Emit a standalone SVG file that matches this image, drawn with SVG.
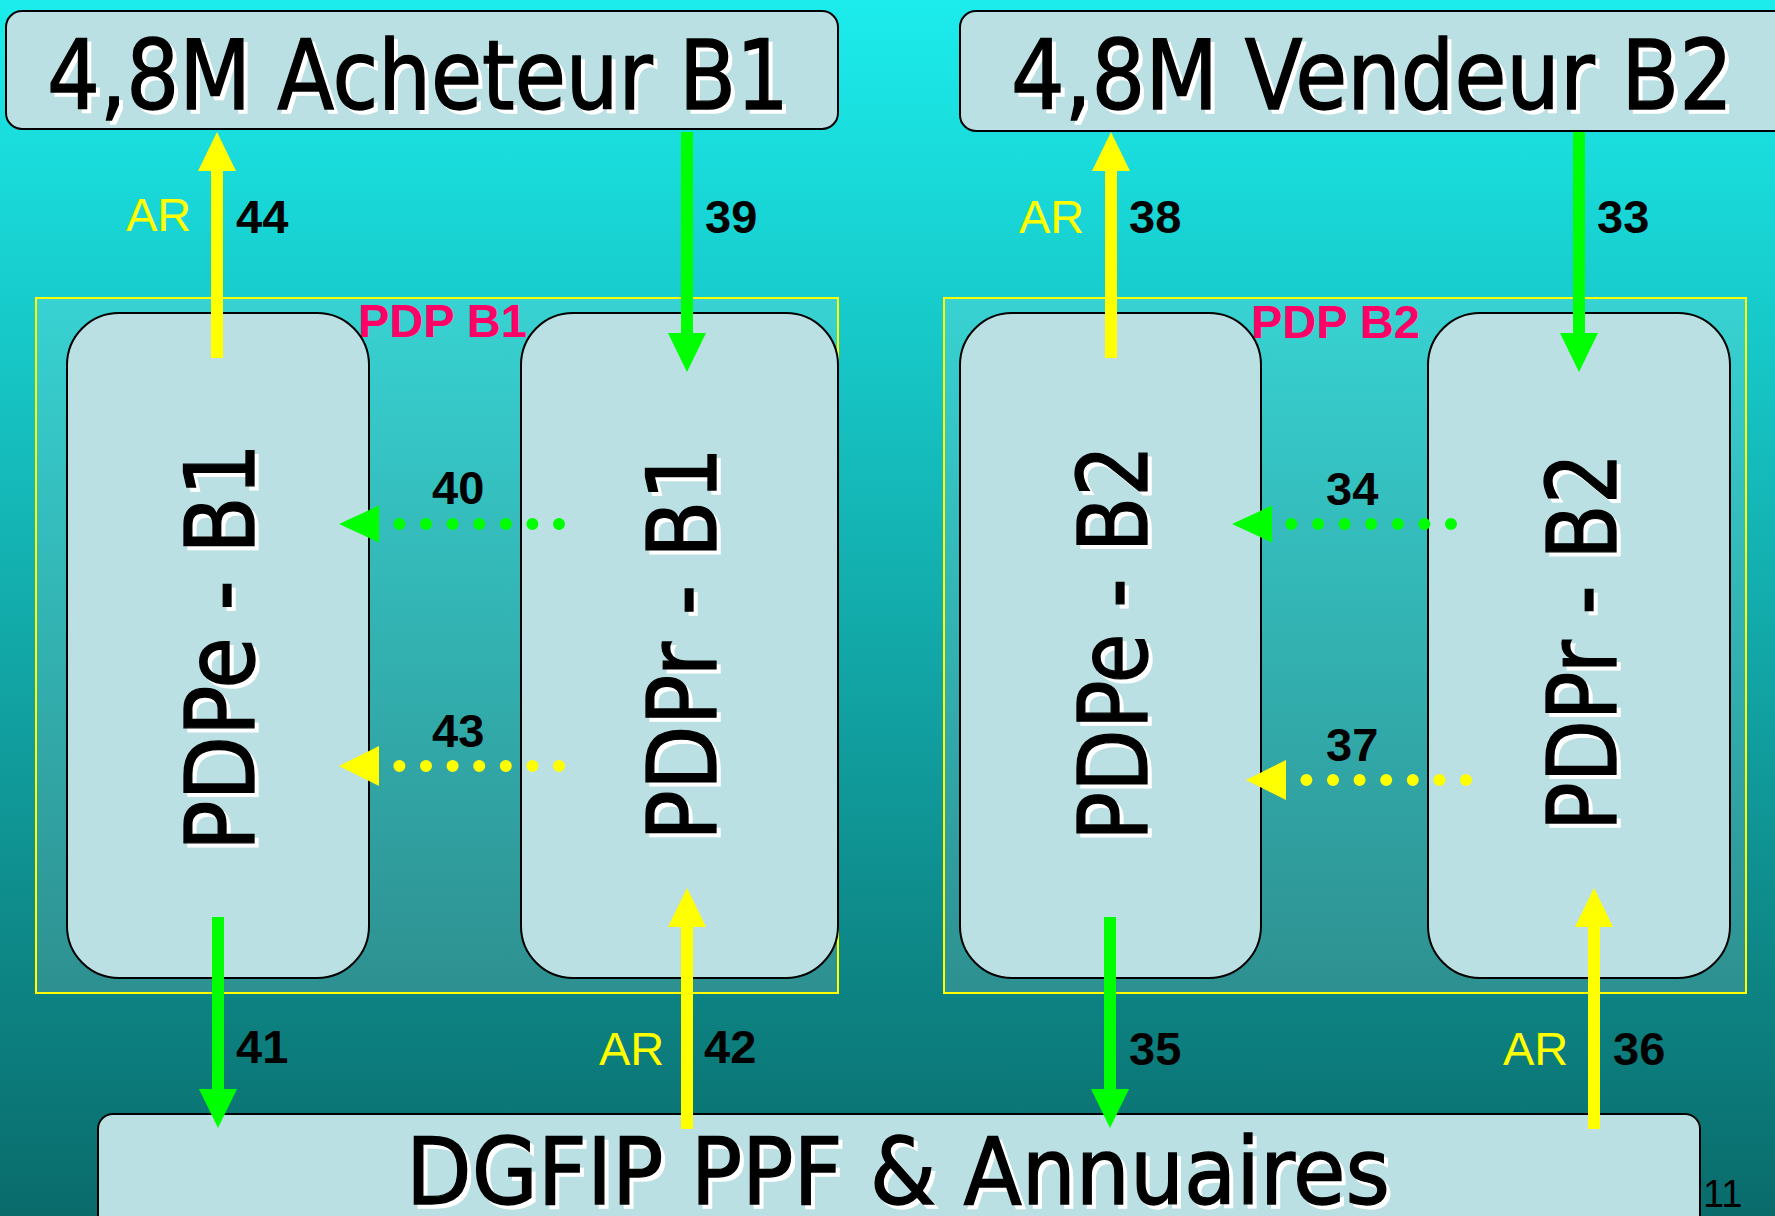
<svg xmlns="http://www.w3.org/2000/svg" width="1775" height="1216" viewBox="0 0 1775 1216">
<defs>
<linearGradient id="bg" x1="0" y1="0" x2="0" y2="1216" gradientUnits="userSpaceOnUse">
<stop offset="0" stop-color="#1CECEC"/>
<stop offset="1" stop-color="#0A6B6B"/>
</linearGradient>
<linearGradient id="cont" x1="0" y1="298" x2="0" y2="993" gradientUnits="userSpaceOnUse">
<stop offset="0" stop-color="#38D2D2"/>
<stop offset="1" stop-color="#2E9090"/>
</linearGradient>
<marker id="hy" viewBox="0 0 39 38" refX="0" refY="19" markerWidth="39" markerHeight="38" markerUnits="userSpaceOnUse" orient="auto">
<path d="M0,0 L39,19 L0,38 z" fill="#FFFF00"/>
</marker>
<marker id="hg" viewBox="0 0 39 38" refX="0" refY="19" markerWidth="39" markerHeight="38" markerUnits="userSpaceOnUse" orient="auto">
<path d="M0,0 L39,19 L0,38 z" fill="#00FF00"/>
</marker>
<style>
.box{fill:#BAE0E3;stroke:#000;stroke-width:2}
.cont{fill:url(#cont);stroke:#FFFF00;stroke-width:2}
.big{font-family:"DejaVu Sans Condensed","DejaVu Sans",sans-serif;font-stretch:condensed;fill:#000;stroke:#000;stroke-width:1.3}
.sh{fill:#FFFFFF;stroke:#FFFFFF}
.num{font-family:"Liberation Sans",Arial,sans-serif;font-weight:bold;font-size:47px;fill:#000}
.ar{font-family:"Liberation Sans",Arial,sans-serif;font-size:47px;fill:#FFFF00}
.pdp{font-family:"Liberation Sans",Arial,sans-serif;font-weight:bold;font-size:47px;fill:#FF0066}
.ay{stroke:#FFFF00;stroke-width:12;fill:none;marker-end:url(#hy)}
.ag{stroke:#00FF00;stroke-width:12;fill:none;marker-end:url(#hg)}
.dy{stroke:#FFFF00;stroke-width:12;stroke-linecap:round;stroke-dasharray:0 26.6;fill:none}
.dg{stroke:#00FF00;stroke-width:12;stroke-linecap:round;stroke-dasharray:0 26.6;fill:none}
</style>
</defs>
<rect x="0" y="0" width="1775" height="1216" fill="url(#bg)"/>

<g id="node-acheteur-b1">
<rect class="box" x="6" y="11" width="832" height="118" rx="16"/>
<text class="big sh" x="51" y="113" font-size="97" textLength="742" lengthAdjust="spacingAndGlyphs">4,8M Acheteur B1</text>
<text class="big" x="47" y="109" font-size="97" textLength="742" lengthAdjust="spacingAndGlyphs">4,8M Acheteur B1</text>
</g>

<g id="node-vendeur-b2">
<rect class="box" x="960" y="11" width="840" height="120" rx="16"/>
<text class="big sh" x="1015" y="113" font-size="97" textLength="722" lengthAdjust="spacingAndGlyphs">4,8M Vendeur B2</text>
<text class="big" x="1011" y="109" font-size="97" textLength="722" lengthAdjust="spacingAndGlyphs">4,8M Vendeur B2</text>
</g>

<g id="node-pdp-b1">
<rect class="cont" x="36" y="298" width="802" height="695"/>
<text class="pdp" x="358" y="337">PDP B1</text>
</g>

<g id="node-pdp-b2">
<rect class="cont" x="944" y="298" width="802" height="695"/>
<text class="pdp" x="1251" y="338">PDP B2</text>
</g>

<g id="node-pdpe-b1">
<rect class="box" x="67" y="313" width="302" height="665" rx="52"/>
<text class="big sh" transform="translate(258,855) rotate(-90)" x="0" y="0" font-size="96" textLength="408" lengthAdjust="spacingAndGlyphs">PDPe - B1</text>
<text class="big" transform="translate(254,851) rotate(-90)" x="0" y="0" font-size="96" textLength="408" lengthAdjust="spacingAndGlyphs">PDPe - B1</text>
</g>

<g id="node-pdpr-b1">
<rect class="box" x="521" y="313" width="317" height="665" rx="52"/>
<text class="big sh" transform="translate(720,845) rotate(-90)" x="0" y="0" font-size="96" textLength="394" lengthAdjust="spacingAndGlyphs">PDPr - B1</text>
<text class="big" transform="translate(716,841) rotate(-90)" x="0" y="0" font-size="96" textLength="394" lengthAdjust="spacingAndGlyphs">PDPr - B1</text>
</g>

<g id="node-pdpe-b2">
<rect class="box" x="960" y="313" width="301" height="665" rx="52"/>
<text class="big sh" transform="translate(1151,845) rotate(-90)" x="0" y="0" font-size="96" textLength="396" lengthAdjust="spacingAndGlyphs">PDPe - B2</text>
<text class="big" transform="translate(1147,841) rotate(-90)" x="0" y="0" font-size="96" textLength="396" lengthAdjust="spacingAndGlyphs">PDPe - B2</text>
</g>

<g id="node-pdpr-b2">
<rect class="box" x="1428" y="313" width="302" height="665" rx="52"/>
<text class="big sh" transform="translate(1620,835) rotate(-90)" x="0" y="0" font-size="96" textLength="378" lengthAdjust="spacingAndGlyphs">PDPr - B2</text>
<text class="big" transform="translate(1616,831) rotate(-90)" x="0" y="0" font-size="96" textLength="378" lengthAdjust="spacingAndGlyphs">PDPr - B2</text>
</g>

<g id="node-dgfip">
<rect class="box" x="98" y="1114" width="1602" height="140" rx="15"/>
<text class="big sh" x="410" y="1208" font-size="93" textLength="984" lengthAdjust="spacingAndGlyphs">DGFIP PPF &amp; Annuaires</text>
<text class="big" x="406" y="1204" font-size="93" textLength="984" lengthAdjust="spacingAndGlyphs">DGFIP PPF &amp; Annuaires</text>
</g>

<g id="connectors">
<line class="ay" x1="217" y1="358" x2="217" y2="171"/>
<line class="ag" x1="687" y1="132" x2="687" y2="333"/>
<line class="ay" x1="1111" y1="358" x2="1111" y2="171"/>
<line class="ag" x1="1579" y1="132" x2="1579" y2="333"/>
<line class="ag" x1="218" y1="917" x2="218" y2="1089"/>
<line class="ay" x1="687" y1="1129" x2="687" y2="927"/>
<line class="ag" x1="1110" y1="917" x2="1110" y2="1089"/>
<line class="ay" x1="1594" y1="1129" x2="1594" y2="927"/>

<line class="dg" x1="559" y1="524" x2="398" y2="524"/>
<polygon points="339,524 379,505.5 379,542.5" fill="#00FF00"/>
<line class="dy" x1="559" y1="766" x2="398" y2="766"/>
<polygon points="339,766 379,746 379,786" fill="#FFFF00"/>
<line class="dg" x1="1451" y1="524" x2="1290" y2="524"/>
<polygon points="1232,524 1272,505.5 1272,542.5" fill="#00FF00"/>
<line class="dy" x1="1466" y1="780" x2="1305" y2="780"/>
<polygon points="1246,780 1286,760 1286,800" fill="#FFFF00"/>

<text class="ar" x="126" y="231">AR</text>
<text class="num" x="236" y="233">44</text>
<text class="num" x="705" y="233">39</text>
<text class="ar" x="1019" y="233">AR</text>
<text class="num" x="1129" y="233">38</text>
<text class="num" x="1597" y="233">33</text>
<text class="num" x="432" y="504">40</text>
<text class="num" x="432" y="747">43</text>
<text class="num" x="1326" y="505">34</text>
<text class="num" x="1326" y="761">37</text>
<text class="num" x="236" y="1063">41</text>
<text class="ar" x="599" y="1065">AR</text>
<text class="num" x="704" y="1063">42</text>
<text class="num" x="1129" y="1065">35</text>
<text class="ar" x="1503" y="1065">AR</text>
<text class="num" x="1613" y="1065">36</text>
</g>

<text x="1703" y="1207" font-family="Liberation Sans, Arial, sans-serif" font-size="38" fill="#000">11</text>
</svg>
